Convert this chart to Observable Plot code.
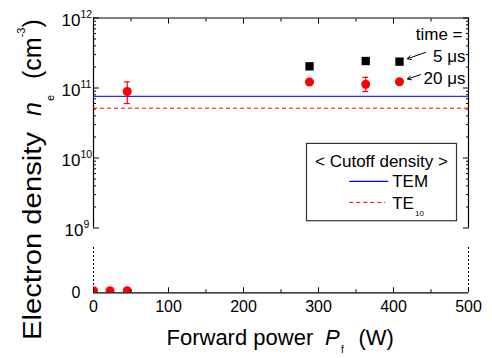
<!DOCTYPE html>
<html><head><meta charset="utf-8">
<script src="https://cdn.jsdelivr.net/npm/d3@7"></script>
<script src="https://cdn.jsdelivr.net/npm/@observablehq/plot@0.6"></script>
<style>
body{margin:0;background:#fff;}
#chart{position:relative;width:492px;height:358px;}
#chart svg{position:absolute;left:0;top:0;overflow:visible;}
</style></head><body><div id="chart"></div>
<script>
// ---- data ----
const power5us = [288, 363, 408];
const density5us = [2.04e11, 2.43e11, 2.38e11];
const power20us = [45, 288, 363, 408];
const density20us = [8.9e10, 1.22e11, 1.13e11, 1.23e11];
const errLow20us = [6.0e10, null, 8.9e10, null];
const errHigh20us = [1.22e11, null, 1.42e11, null];
const powerZero = [0, 22, 45];
const densityZero = [0, 0, 0];
const cutoffTEM = 7.6e10;
const cutoffTE10 = 5.15e10;
const xTicksMajor = [0, 100, 200, 300, 400, 500];
const xTicksMinor = [50, 150, 250, 350, 450];
const yDecades = [1e9, 1e10, 1e11, 1e12];
const yExponents = ["9", "10", "11", "12"];
const timeLabels = ["time =", "5 \u03bcs", "20 \u03bcs"];
const legendTitle = "< Cutoff density >";
const legendLabels = ["TEM", "TE"];
const legendSub = "10";

// ---- layout ----
const W = 492, H = 358;
const FONT = '"Liberation Sans", Arial, Helvetica, sans-serif';
const ML = 93, MR = 24;
const yMinor = yDecades.slice(0, 3).flatMap(d => [2,3,4,5,6,7,8,9].map(k => k * d));
const idx = (arr) => arr.map((v, i) => i).filter(i => arr[i] != null);
const errIdx = idx(errLow20us);

const lowerPanel = Plot.plot({
  width: W, height: H,
  marginLeft: ML, marginRight: MR, marginTop: 247, marginBottom: H - 292.3,
  style: {background: "transparent", fontFamily: FONT, overflow: "visible", color: "#000"},
  x: {domain: [0, 500], axis: null},
  y: {domain: [0, 1], axis: null},
  marks: [
    Plot.ruleX([0, 500], {stroke: "#000", strokeDasharray: "2,2"}),
    Plot.dot(powerZero, {x: powerZero, y: densityZero, r: 4.5, dy: -2, fill: "#ff0000", clip: true}),
    Plot.ruleY([0], {stroke: "#000", strokeWidth: 1.2}),
    Plot.axisX(xTicksMajor, {anchor: "bottom", tickSize: -5, tickFormat: () => "", label: null}),
    Plot.axisX(xTicksMinor, {anchor: "bottom", tickSize: -3, tickFormat: () => "", label: null}),
    Plot.axisX(xTicksMajor, {anchor: "bottom", tickSize: 0, tickPadding: 8, fontSize: 16, label: null}),
    Plot.axisY([0], {anchor: "left", tickSize: 0, tickPadding: 13, fontSize: 16, label: null})
  ]
});

const upperPanel = Plot.plot({
  width: W, height: H,
  marginLeft: ML, marginRight: MR, marginTop: 17.5, marginBottom: H - 227.5,
  style: {background: "transparent", fontFamily: FONT, overflow: "visible", color: "#000"},
  x: {domain: [0, 500], axis: null},
  y: {type: "log", domain: [1e9, 1e12], axis: null},
  marks: [
    Plot.ruleY([1e12], {stroke: "#000", strokeWidth: 1.2}),
    Plot.ruleX([0, 500], {stroke: "#000", strokeWidth: 1.2}),
    Plot.axisX(xTicksMajor, {anchor: "top", tickSize: -5, tickFormat: () => "", label: null}),
    Plot.axisX(xTicksMinor, {anchor: "top", tickSize: -3, tickFormat: () => "", label: null}),
    Plot.axisY(yDecades, {anchor: "left", tickSize: -6, tickFormat: () => "", label: null}),
    Plot.axisY(yMinor, {anchor: "left", tickSize: -3, tickFormat: () => "", label: null}),
    Plot.axisY(yDecades, {anchor: "right", tickSize: -6, tickFormat: () => "", label: null}),
    Plot.axisY(yMinor, {anchor: "right", tickSize: -3, tickFormat: () => "", label: null}),
    // decade labels 10^n
    Plot.text(yDecades.slice(1), {y: d => d, frameAnchor: "left", text: () => "10", textAnchor: "end", dx: -13, dy: 7.5, lineAnchor: "bottom", fontSize: 17}),
    Plot.text(yDecades.slice(1), {y: d => d, frameAnchor: "left", text: yExponents.slice(1), textAnchor: "start", dx: -13, dy: 0, lineAnchor: "bottom", fontSize: 10.5}),
    Plot.text(yDecades.slice(0, 1), {y: d => d, frameAnchor: "left", text: () => "10", textAnchor: "end", dx: -10, dy: 7.5, lineAnchor: "bottom", fontSize: 17}),
    Plot.text(yDecades.slice(0, 1), {y: d => d, frameAnchor: "left", text: yExponents.slice(0, 1), textAnchor: "start", dx: -10, dy: 0, lineAnchor: "bottom", fontSize: 10.5}),
    // cutoff lines
    Plot.ruleY([cutoffTEM], {stroke: "#2a2aff", strokeWidth: 1.4}),
    Plot.ruleY([cutoffTE10], {stroke: "#ff0000", strokeWidth: 1, strokeDasharray: "4,3"}),
    // error bars
    Plot.ruleX(errIdx, {x: i => power20us[i], y1: i => errLow20us[i], y2: i => errHigh20us[i], stroke: "#ff0000", strokeWidth: 1.2}),
    Plot.ruleY(errIdx, {x1: i => power20us[i], x2: i => power20us[i], y: i => errLow20us[i], insetLeft: -3, insetRight: -3, stroke: "#ff0000", strokeWidth: 1.2}),
    Plot.ruleY(errIdx, {x1: i => power20us[i], x2: i => power20us[i], y: i => errHigh20us[i], insetLeft: -3, insetRight: -3, stroke: "#ff0000", strokeWidth: 1.2}),
    // data
    Plot.dot(power20us, {x: power20us, y: density20us, r: 4.5, fill: "#ff0000"}),
    Plot.dot(power5us, {x: power5us, y: density5us, r: 4.7, symbol: "square", fill: "#000"}),
    // annotations
    Plot.arrow([0], {x1: 442.7, y1: 3.23e11, x2: power5us[2], y2: density5us[2], insetEnd: 8.5, headLength: 6, stroke: "#000", strokeWidth: 1}),
    Plot.arrow([0], {x1: 436, y1: 1.55e11, x2: power20us[3], y2: density20us[3], insetEnd: 8.5, headLength: 6, stroke: "#000", strokeWidth: 1}),
    Plot.text([timeLabels[0]], {frameAnchor: "top-right", dx: -6, dy: 22, textAnchor: "end", lineAnchor: "bottom", fontSize: 17}),
    Plot.text([timeLabels[1]], {frameAnchor: "top-right", dx: -3, dy: 44.4, textAnchor: "end", lineAnchor: "bottom", fontSize: 17}),
    Plot.text([timeLabels[2]], {frameAnchor: "top-right", dx: -3, dy: 66, textAnchor: "end", lineAnchor: "bottom", fontSize: 17}),
    // legend
    Plot.frame({insetLeft: 213, insetRight: 12, insetTop: 125.4, insetBottom: 7.3, stroke: "#333", strokeWidth: 1.2}),
    Plot.text([legendTitle], {frameAnchor: "top-left", dx: 288, dy: 148.7, textAnchor: "middle", lineAnchor: "bottom", fontSize: 17}),
    Plot.link([0], {x1: 341, x2: 393, y1: 4.63e9, y2: 4.63e9, stroke: "#0000ff", strokeWidth: 1.2}),
    Plot.link([0], {x1: 341, x2: 389, y1: 2.32e9, y2: 2.32e9, stroke: "#ff0000", strokeWidth: 1, strokeDasharray: "4,3"}),
    Plot.text([legendLabels[0]], {frameAnchor: "top-left", dx: 298.7, dy: 169.4, textAnchor: "start", lineAnchor: "bottom", fontSize: 17}),
    Plot.text([legendLabels[1]], {frameAnchor: "top-left", dx: 298.7, dy: 191, textAnchor: "start", lineAnchor: "bottom", fontSize: 17}),
    Plot.text([legendSub], {frameAnchor: "top-left", dx: 321.5, dy: 197.7, textAnchor: "start", lineAnchor: "bottom", fontSize: 8})
  ]
});

const chart = document.getElementById("chart");
chart.appendChild(lowerPanel);
chart.appendChild(upperPanel);

// axis titles with sub/superscripts
const svg = d3.select(upperPanel);
const xt = svg.append("text").attr("y", 345)
  .attr("text-anchor", "start")
  .attr("font-family", FONT).attr("font-size", 22).attr("fill", "#000");
xt.append("tspan").attr("x", 166.5).text("Forward power");
xt.append("tspan").attr("x", 325).attr("font-style", "italic").text("P");
xt.append("tspan").attr("x", 341).attr("font-size", 10).attr("dy", 8).text("f");
xt.append("tspan").attr("x", 358.5).attr("dy", -8).text("(W)");

// rotated: tspan x = -(screen y of start)
const yt = svg.append("text").attr("transform", "translate(41,0) rotate(-90)")
  .attr("text-anchor", "start")
  .attr("font-family", FONT).attr("font-size", 25).attr("fill", "#000");
yt.append("tspan").attr("x", -340).attr("textLength", 208).attr("lengthAdjust", "spacingAndGlyphs").text("Electron density");
yt.append("tspan").attr("x", -116).attr("font-style", "italic").text("n");
yt.append("tspan").attr("x", -101).attr("font-size", 11).attr("dy", 13).text("e");
yt.append("tspan").attr("x", -79).attr("dy", -13).text("(cm");
yt.append("tspan").attr("font-size", 11).attr("dy", -16).text("-3");
yt.append("tspan").attr("dy", 16).text(")");
</script>
</body></html>
